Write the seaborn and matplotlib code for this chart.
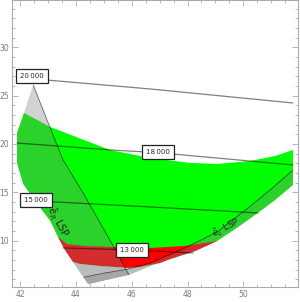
import numpy as np
import pandas as pd
import matplotlib
matplotlib.use("Agg")
import matplotlib.pyplot as plt
import seaborn as sns
from matplotlib.patches import Polygon
from matplotlib.ticker import MultipleLocator

# ---- region boundaries ----
# upper edge of the allowed region, left to right
top_x = [41.89, 42.14, 43.08, 44.01, 45.23, 46.66, 48.09, 49.06, 50.24, 51.14, 51.78]
top_y = [21.14, 23.21, 21.76, 20.72, 19.38, 18.55, 18.04, 17.93, 18.24, 18.76, 19.38]
# lower edge, right to left
low_x = [51.78, 51.14, 50.42, 49.71, 49.06, 48.27, 47.38, 46.66, 45.87, 45.23,
         44.44, 43.90, 43.61, 43.36, 43.08, 42.54, 42.11, 41.89]
low_y = [15.76, 14.21, 12.66, 11.21, 9.97, 8.93, 8.11, 7.38, 6.45, 6.04,
         5.52, 7.80, 9.04, 10.38, 12.04, 14.11, 15.86, 18.04]

# red band: upper edge (left to right) and lower edge (right to left)
red_top_x = [43.36, 43.68, 44.33, 45.23, 46.66, 47.91, 49.06]
red_top_y = [10.38, 9.66, 9.45, 9.35, 9.25, 9.45, 9.97]
red_bot_x = [47.02, 46.30, 45.87, 44.87, 44.15, 43.90]
red_bot_y = [7.69, 7.28, 7.18, 7.38, 7.59, 7.80]

# e_R LSP boundary (apex at top, down to the lower edge)
eR_x = [42.47, 43.08, 43.54, 44.26, 44.87, 45.48, 45.90]
eR_y = [26.10, 21.65, 18.35, 14.93, 11.83, 8.73, 6.47]
eR_left_x = [42.14, 41.89]
eR_left_y = [23.21, 21.14]

# e_L LSP boundary
eL_x = [51.78, 50.96, 49.99, 49.06, 47.84, 46.66, 45.87, 45.05, 44.33, 43.97]
eL_y = [17.31, 15.24, 12.97, 10.90, 9.14, 7.69, 7.07, 6.66, 6.25, 6.04]

# contour lines and their labels
contours = {
    "20\u2009000": ([41.89, 42.93, 46.66, 51.78], [26.88, 26.62, 25.69, 24.24], (42.43, 27.03)),
    "18\u2009000": ([41.89, 45.23, 46.95, 51.78], [20.10, 19.38, 19.10, 17.83], (46.95, 19.15)),
    "15\u2009000": ([42.54, 46.66, 50.53], [14.11, 13.49, 12.87], (42.56, 14.21)),
    "13\u2009000": ([43.54, 46.01, 48.20], [9.25, 9.04, 8.73], (46.01, 9.04)),
}

xlim = (41.71, 51.96)
ylim = (5.21, 34.89)

sns.set_style("ticks")
plt.rcParams["font.family"] = ["DejaVu Sans"]

fig = plt.figure(figsize=(3.0, 3.02), dpi=100)
ax = fig.add_axes([0.04, 0.0497, 0.9533, 0.9503])

# allowed region (green)
domain = Polygon(np.column_stack([top_x + low_x, top_y + low_y]), closed=True,
                 fc="#00ff00", ec="none", zorder=1)
ax.add_patch(domain)

# red band
rx = red_top_x + low_x[5:7] + red_bot_x + [low_x[12]]
ry = red_top_y + low_y[5:7] + red_bot_y + [low_y[12]]
ax.add_patch(Polygon(np.column_stack([rx, ry]), closed=True, fc="#ff0000", ec="none", zorder=2))

# light grey strip below the red band
gx = red_bot_x + [low_x[10], low_x[9], low_x[8], low_x[7]]
gy = red_bot_y + [low_y[10], low_y[9], low_y[8], low_y[7]]
ax.add_patch(Polygon(np.column_stack([gx, gy]), closed=True, fc="#dcdcdc", ec="none", zorder=2))

# e_R LSP overlay
ex = [eR_x[0]] + eR_left_x + low_x[17:8:-1] + eR_x[::-1]
ey = [eR_y[0]] + eR_left_y + low_y[17:8:-1] + eR_y[::-1]
ax.add_patch(Polygon(np.column_stack([ex, ey]), closed=True, fc="#808080", alpha=0.35,
                     ec="none", zorder=3))

# e_L LSP overlay, clipped to the allowed region
lx = eL_x + [eL_x[-1], xlim[1], xlim[1]]
ly = eL_y + [ylim[0], ylim[0], eL_y[0]]
eL_patch = Polygon(np.column_stack([lx, ly]), closed=True, fc="#808080", alpha=0.35,
                   ec="none", zorder=3)
ax.add_patch(eL_patch)
eL_patch.set_clip_path(domain)

# boundary lines
sns.lineplot(x=eR_x, y=eR_y, ax=ax, color="black", alpha=0.55, lw=0.6,
             sort=False, estimator=None, zorder=4)
line_l = sns.lineplot(x=eL_x, y=eL_y, ax=ax, color="black", alpha=0.55, lw=0.6,
                      sort=False, estimator=None, zorder=4).lines[-1]
line_l.set_clip_path(domain)

# contour lines with boxed labels
for label, (cx, cy, pos) in contours.items():
    sns.lineplot(x=cx, y=cy, ax=ax, color="black", alpha=0.5, lw=0.9,
                 sort=False, estimator=None, zorder=4)
    ax.text(pos[0], pos[1], label, fontsize=5, ha="center", va="center", zorder=6,
            bbox=dict(boxstyle="square,pad=0.6", fc="white", ec="#222222", lw=0.9))

ax.text(43.33, 11.93, r"$\tilde{e}_R$ LSP", fontsize=7, rotation=-62,
        ha="center", va="center", zorder=6)
ax.text(49.38, 11.31, r"$\tilde{e}_L$ LSP", fontsize=6.5, rotation=27,
        ha="center", va="center", zorder=6)

ax.set_xlim(*xlim)
ax.set_ylim(*ylim)
ax.set_xticks([42, 44, 46, 48, 50])
ax.set_yticks([10, 15, 20, 25, 30])
ax.xaxis.set_minor_locator(MultipleLocator(0.5))
ax.yaxis.set_minor_locator(MultipleLocator(1))
ax.tick_params(which="both", direction="in", top=True, right=True, color="#aaaaaa",
               width=0.6, labelsize=5.5, labelcolor="#777777", pad=2)
ax.tick_params(which="major", length=4)
ax.tick_params(which="minor", length=2)
for s in ax.spines.values():
    s.set_color("#aaaaaa")
    s.set_linewidth(0.8)
ax.set_xlabel("")
ax.set_ylabel("")

fig.savefig("out.png", dpi=100)
